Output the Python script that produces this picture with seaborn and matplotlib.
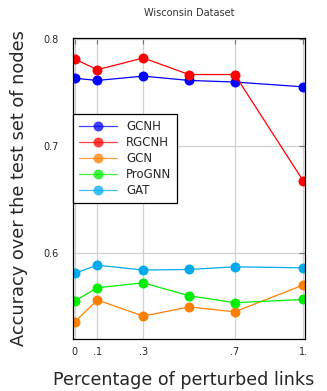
import seaborn as sns
import matplotlib
matplotlib.use('Agg')
import matplotlib.pyplot as plt
import pandas as pd

perturbed = [0.0, 0.1, 0.3, 0.5, 0.7, 1.0]

gcnh = [0.763, 0.761, 0.765, 0.761, 0.7595, 0.755]
rgcnh = [0.781, 0.771, 0.782, 0.7665, 0.7665, 0.667]
gcn = [0.5355, 0.556, 0.541, 0.5495, 0.545, 0.570]
prognn = [0.555, 0.5675, 0.572, 0.560, 0.5535, 0.5565]
gat = [0.581, 0.5885, 0.584, 0.5845, 0.587, 0.586]

models = ['GCNH', 'RGCNH', 'GCN', 'ProGNN', 'GAT']
colors = ['#0000ff', '#ff0000', '#ff8000', '#00ee00', '#00aaee']

xticks = [0, 0.1, 0.3, 0.7, 1.0]
xticklabels = ['0', '.1', '.3', '.7', '1.']
yticks = [0.6, 0.7, 0.8]


def main(figname):
    series = dict(zip(models, [gcnh, rgcnh, gcn, prognn, gat]))
    df = pd.DataFrame([(m, x, y) for m, vals in series.items()
                       for x, y in zip(perturbed, vals)],
                      columns=['model', 'perturbed', 'accuracy'])

    sns.set_style('whitegrid')
    plt.rcParams['font.family'] = ['DejaVu Sans']

    fig = plt.figure(figsize=(3.27, 3.91), dpi=100)
    ax = fig.add_axes([0.2232, 0.133, 0.7095, 0.7698])

    sns.lineplot(data=df, x='perturbed', y='accuracy', hue='model',
                 hue_order=models, palette=colors, marker='o',
                 markersize=7.2, markeredgewidth=0, linewidth=0.9,
                 ax=ax)

    ax.set_xlim(-0.007, 1.007)
    ax.set_ylim(0.5196, 0.8006)
    ax.set_xticks(xticks)
    ax.set_xticklabels(xticklabels)
    ax.set_yticks(yticks)
    ax.set_yticklabels(['0.6', '0.7', '0.8'])
    ax.tick_params(axis='both', labelsize=7, direction='in', length=4,
                   width=0.8, color='0.45', top=True, right=True)
    ax.tick_params(axis='x', pad=6)
    ax.tick_params(axis='y', pad=10)
    ax.grid(True, color='0.82', linewidth=0.9)
    for s in ax.spines.values():
        s.set_color('black')
        s.set_linewidth(0.9)

    ax.set_title('Wisconsin Dataset', fontsize=7, color='0.2', pad=16)
    ax.set_xlabel('Percentage of perturbed links', fontsize=12.6,
                  labelpad=10, x=0.475)
    ax.set_ylabel('Accuracy over the test set of nodes', fontsize=12.8,
                  labelpad=11)

    leg = ax.legend(loc='upper left', bbox_to_anchor=(0.0, 0.7465),
                    borderaxespad=0, fontsize=8.5, fancybox=False,
                    framealpha=1, edgecolor='black', handlelength=3.2,
                    labelspacing=0.25, borderpad=0.5)
    leg.get_frame().set_linewidth(0.9)
    for line in leg.get_lines():
        line.set_alpha(0.75)

    fig.savefig(figname, dpi=100)


if __name__ == '__main__':
    main('out.png')
